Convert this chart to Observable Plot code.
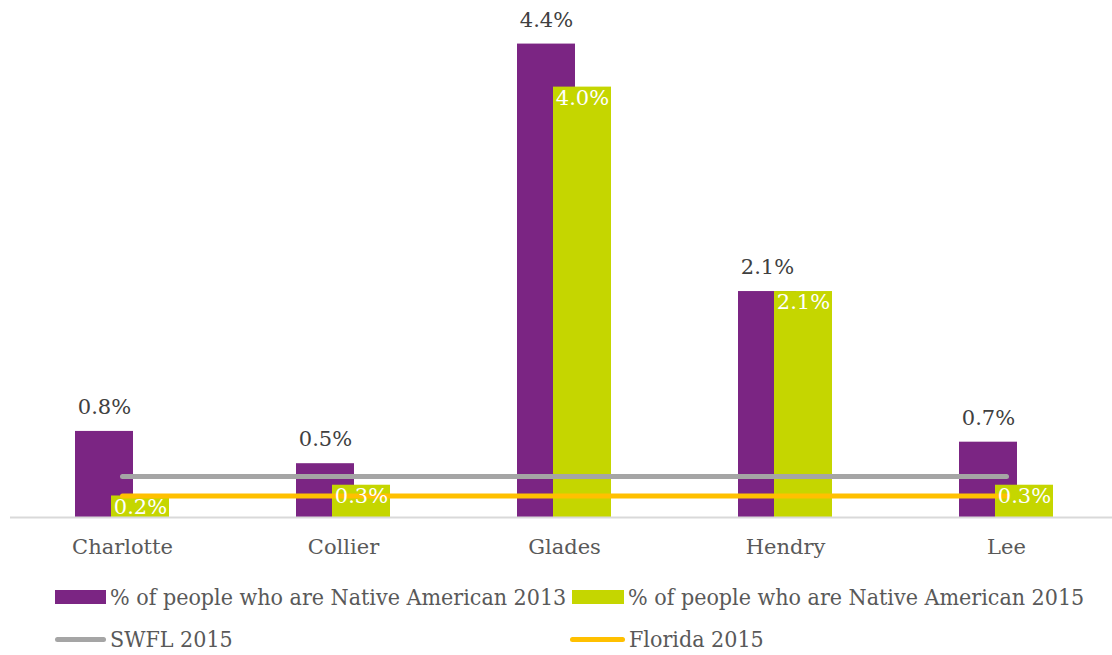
<!DOCTYPE html>
<html><head><meta charset="utf-8">
<script src="https://cdn.jsdelivr.net/npm/d3@7"></script>
<script src="https://cdn.jsdelivr.net/npm/@observablehq/plot@0.6"></script>
<style>
body{margin:0;background:#fff;width:1112px;height:655px;overflow:hidden;position:relative;font-family:"DejaVu Serif",serif;}
#chart svg{overflow:visible;display:block}
.leg{position:absolute;font-family:"DejaVu Serif Condensed","DejaVu Serif",serif;font-size:23px;color:#595959;display:flex;align-items:center;white-space:nowrap;}
.sw{display:inline-block;margin-right:4px}
</style></head><body>
<div id="chart"></div>
<div class="leg" style="left:55px;top:584px"><span class="sw" style="width:51px;height:14px;background:#7b2583"></span>% of people who are Native American 2013</div>
<div class="leg" style="left:572px;top:584px"><span class="sw" style="width:52px;height:14px;background:#c5d600"></span>% of people who are Native American 2015</div>
<div class="leg" style="left:55px;top:626px"><span class="sw" style="width:51px;height:5px;border-radius:3px;background:#a5a5a5"></span>SWFL 2015</div>
<div class="leg" style="left:570px;top:626px"><span class="sw" style="width:55px;height:5px;border-radius:3px;background:#ffc000"></span>Florida 2015</div>
<script>
const counties = ["Charlotte","Collier","Glades","Hendry","Lee"];
const pct2013 = [0.8,0.5,4.4,2.1,0.7];
const pct2015 = [0.2,0.3,4.0,2.1,0.3];
const swfl2015 = 0.38;
const florida2015 = 0.2;

const data = counties.map((c,i)=>({county:c,v13:pct2013[i],v15:pct2015[i],swfl:swfl2015,fl:florida2015}));
const fmt = v => v.toFixed(1) + "%";
const bw = 221.5, gw = 94, ov = 36;
const pin = 1 - gw/bw;
const chart = Plot.plot({
  width:1112, height:570,
  marginLeft:10, marginRight:-6, marginTop:0, marginBottom:53,
  style:{fontFamily:"DejaVu Serif, serif", background:"transparent"},
  x:{domain:counties, paddingInner:pin, paddingOuter:pin/2, align:0.5, axis:null},
  y:{domain:[0,4.805], axis:null},
  marks:[
    Plot.barY(data,{x:"county",y:"v13",fill:"#7b2583",insetRight:ov}),
    Plot.barY(data,{x:"county",y:"v15",fill:"#c5d600",insetLeft:ov}),
    Plot.ruleY([0],{stroke:"#d9d9d9",strokeWidth:2}),
    Plot.lineY(data,{x:"county",y:"swfl",stroke:"#a5a5a5",strokeWidth:5,strokeLinecap:"round"}),
    Plot.lineY(data,{x:"county",y:"fl",stroke:"#ffc000",strokeWidth:5,strokeLinecap:"round"}),
    Plot.text(data,{x:"county",y:"v13",text:d=>fmt(d.v13),dx:-ov/2,dy:-24,fill:"#404040",fontSize:21}),
    Plot.text(data,{x:"county",y:"v15",text:d=>fmt(d.v15),dx:ov/2,dy:11,fill:"white",fontSize:21}),
    Plot.text(counties,{x:d=>d,y:0,text:d=>d,dy:30,fill:"#595959",fontSize:21})
  ]
});
document.getElementById("chart").appendChild(chart);
</script>
</body></html>
